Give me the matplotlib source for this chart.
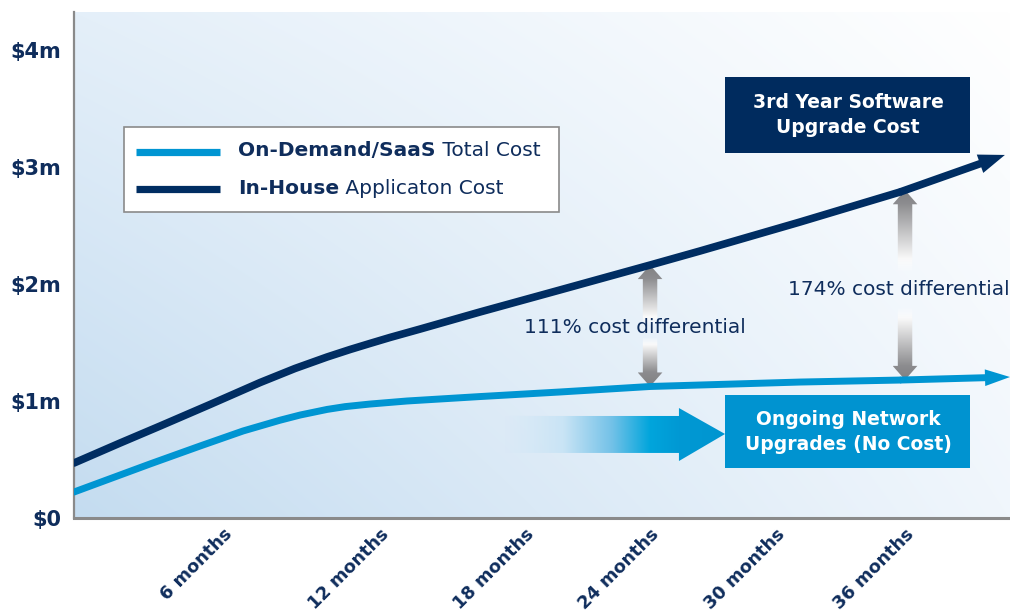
import numpy as np
import matplotlib
matplotlib.use('Agg')
import matplotlib.pyplot as plt
from matplotlib.patches import Rectangle, Polygon, FancyArrowPatch
from matplotlib.lines import Line2D
from matplotlib.colors import to_rgb, to_rgba

# ---------------- data ----------------
months_inhouse = [-3.11, -0.94, 0.94, 3.29, 5.65, 7.29, 8.80, 9.88, 10.82, 11.76,
                  13.18, 16.0, 19.76, 24.0, 26.35, 31.06, 35.76, 40.7]
cost_inhouse = [0.470, 0.641, 0.786, 0.970, 1.158, 1.278, 1.376, 1.440, 1.492, 1.543,
                1.615, 1.761, 1.949, 2.162, 2.282, 2.530, 2.786, 3.103]

months_saas = [-3.11, 0.47, 2.82, 4.85, 6.59, 7.53, 8.80, 9.65, 10.82, 12.56,
               16.0, 19.76, 24.0, 31.06, 35.76, 40.94]
cost_saas = [0.222, 0.462, 0.615, 0.744, 0.836, 0.880, 0.928, 0.952, 0.974, 1.000,
             1.038, 1.077, 1.124, 1.162, 1.179, 1.205]

x_tick_pos = [3.9, 11.3, 18.1, 24.0, 29.9, 36.0]
x_tick_labels = ['6 months', '12 months', '18 months', '24 months', '30 months', '36 months']
y_tick_pos = [0, 1, 2, 3, 4]
y_tick_labels = [r'\$0', r'\$1m', r'\$2m', r'\$3m', r'\$4m']

diff_months = [24.0, 36.0]
diff_labels = ['111% cost differential', '174% cost differential']

legend_bold = ['On-Demand/SaaS', 'In-House']
legend_rest = [' Total Cost', ' Applicaton Cost']

# ---------------- style ----------------
DARK = '#002d62'
LIGHT = '#0095d2'
NAVY_TXT = '#0f2d5c'
GRAY = '#8a8a8a'
plt.rcParams['font.family'] = ['DejaVu Sans']

W, H = 1010, 614
fig = plt.figure(figsize=(W / 100, H / 100), dpi=100)
fig.patch.set_facecolor('white')


def fx(px):
    return px / W


def fy(py):
    return 1 - py / H


ax = fig.add_axes([fx(74), fy(518), fx(1010 - 74), (518 - 12) / H])

# background gradient
c_bl = np.array(to_rgb('#c4dcf0'))
c_tl = np.array(to_rgb('#e4eff9'))
c_br = np.array(to_rgb('#f0f6fc'))
c_tr = np.array(to_rgb('#ffffff'))
U, V = np.meshgrid(np.linspace(0, 1, 300), np.linspace(0, 1, 200))
U = U[..., None]
V = V[..., None]
bg = c_bl * (1 - U) * (1 - V) + c_br * U * (1 - V) + c_tl * (1 - U) * V + c_tr * U * V
ax.imshow(bg, extent=[0, 1, 0, 1], transform=ax.transAxes, origin='lower',
          aspect='auto', zorder=0, interpolation='bilinear')

ax.set_xlim(-3.11, 40.94)
ax.set_ylim(0, 506 / 117)


def grad_poly(verts, stops, axis='y', zorder=3):
    verts = np.array(verts, dtype=float)
    x0, x1 = verts[:, 0].min(), verts[:, 0].max()
    y0, y1 = verts[:, 1].min(), verts[:, 1].max()
    poly = Polygon(verts, closed=True, facecolor='none', edgecolor='none', transform=ax.transData)
    ax.add_patch(poly)
    t = np.linspace(0, 1, 256)
    pos = [p for p, _ in stops]
    cols = np.array([to_rgba(c) if isinstance(c, str) else c for _, c in stops])
    arr = np.stack([np.interp(t, pos, cols[:, k]) for k in range(4)], axis=-1)
    img = arr[:, None, :] if axis == 'y' else arr[None, :, :]
    im = ax.imshow(img, extent=[x0, x1, y0, y1], origin='lower', aspect='auto',
                   interpolation='bilinear', zorder=zorder)
    im.set_clip_path(poly)
    return im


# ---------------- lines with arrow heads ----------------
ax.plot(months_inhouse[:-1], cost_inhouse[:-1], color=DARK, lw=5.5,
        solid_capstyle='round', solid_joinstyle='round', zorder=5)
ax.add_patch(FancyArrowPatch((months_inhouse[-2], cost_inhouse[-2]),
                             (months_inhouse[-1], cost_inhouse[-1]),
                             arrowstyle='simple,head_length=19,head_width=14,tail_width=5.5',
                             mutation_scale=1, color=DARK, lw=0, zorder=5,
                             shrinkA=0, shrinkB=0))

ax.plot(months_saas[:-1], cost_saas[:-1], color=LIGHT, lw=5.0,
        solid_capstyle='round', solid_joinstyle='round', zorder=5)
ax.add_patch(FancyArrowPatch((months_saas[-2], cost_saas[-2]),
                             (months_saas[-1], cost_saas[-1]),
                             arrowstyle='simple,head_length=18,head_width=12,tail_width=5.0',
                             mutation_scale=1, color=LIGHT, lw=0, zorder=5,
                             shrinkA=0, shrinkB=0))

# ---------------- gray differential arrows ----------------
hw, sw, hl = 0.58, 0.34, 0.12
fades = {24.0: (1.64, 1.54), 36.0: (2.10, 1.80)}
text_pos = {24.0: (23.3, 1.624), 36.0: (35.7, 1.957)}
for m, lab in zip(diff_months, diff_labels):
    ytop = np.interp(m, months_inhouse, cost_inhouse)
    ybot = np.interp(m, months_saas, cost_saas)
    f_up, f_dn = fades[m]
    verts = [(m - sw, f_up), (m + sw, f_up), (m + sw, ytop - hl), (m + hw, ytop - hl),
             (m, ytop), (m - hw, ytop - hl), (m - sw, ytop - hl)]
    tb = (ytop - hl - f_up) / (ytop - f_up)
    grad_poly(verts, [(0, (1, 1, 1, 0)), (0.15, (0.98, 0.98, 0.98, 1)),
                      (tb, (0.55, 0.55, 0.56, 1)), (1, (0.50, 0.50, 0.51, 1))], zorder=4)
    verts = [(m - sw, f_dn), (m + sw, f_dn), (m + sw, ybot + hl), (m + hw, ybot + hl),
             (m, ybot), (m - hw, ybot + hl), (m - sw, ybot + hl)]
    tb = hl / (f_dn - ybot)
    grad_poly(verts, [(0, (0.50, 0.50, 0.51, 1)), (tb, (0.55, 0.55, 0.56, 1)),
                      (0.85, (0.98, 0.98, 0.98, 1)), (1, (1, 1, 1, 0))], zorder=4)
    tx, ty = text_pos[m]
    ax.text(tx, ty, lab, ha='center', va='center', fontsize=14.5, color=NAVY_TXT, zorder=6)

# ---------------- blue gradient arrow ----------------
ga_verts = [(16.47, 0.556), (25.36, 0.556), (25.36, 0.487), (27.53, 0.718),
            (25.36, 0.94), (25.36, 0.872), (16.47, 0.872)]
grad_poly(ga_verts, [(0, (0.85, 0.92, 0.97, 0)), (0.06, (0.82, 0.91, 0.97, 0)),
                     (0.31, to_rgba('#c9e4f5')), (0.515, to_rgba('#74c2e8')),
                     (0.68, to_rgba('#00a5dc')), (0.80, to_rgba('#0099d4')),
                     (1.0, to_rgba('#0095d0'))], axis='x', zorder=4)

# ---------------- axes styling ----------------
for s in ['top', 'right']:
    ax.spines[s].set_visible(False)
ax.spines['left'].set_color(GRAY)
ax.spines['left'].set_linewidth(1.6)
ax.spines['bottom'].set_color(GRAY)
ax.spines['bottom'].set_linewidth(2.2)
ax.set_yticks(y_tick_pos)
ax.set_yticklabels(y_tick_labels, fontsize=15, fontweight='bold', color=NAVY_TXT)
ax.set_xticks(x_tick_pos)
ax.set_xticklabels(x_tick_labels, fontsize=12.8, fontweight='bold', color=NAVY_TXT,
                   rotation=45, ha='right', va='top', rotation_mode='anchor')
ax.tick_params(axis='y', length=0, pad=9)
ax.tick_params(axis='x', length=0, pad=5)

# ---------------- legend (manual) ----------------
fig.patches.append(Rectangle((fx(124), fy(212)), fx(559 - 124), (212 - 127) / H,
                             transform=fig.transFigure, facecolor='white',
                             edgecolor=GRAY, lw=1.2, zorder=10))
for yy, col in [(152, LIGHT), (189, DARK)]:
    fig.lines.append(Line2D([fx(136), fx(220)], [fy(yy), fy(yy)], transform=fig.transFigure,
                            color=col, lw=5.2, solid_capstyle='butt', zorder=11))
renderer = fig.canvas.get_renderer()
for yy, b, r in zip([150, 189], legend_bold, legend_rest):
    t1 = fig.text(fx(238), fy(yy), b, fontsize=14.5, fontweight='bold', color=NAVY_TXT,
                  ha='left', va='center', zorder=12)
    bb = t1.get_window_extent(renderer=renderer)
    fig.text(bb.x1 / W, fy(yy), r, fontsize=14.5, color=NAVY_TXT,
             ha='left', va='center', zorder=12)

# ---------------- callout boxes ----------------
fig.patches.append(Rectangle((fx(725), fy(153)), fx(970 - 725), (153 - 77) / H,
                             transform=fig.transFigure, facecolor='#002b5e',
                             edgecolor='none', zorder=10))
fig.text(fx(848), fy(115), '3rd Year Software\nUpgrade Cost', ha='center', va='center',
         fontsize=13.5, fontweight='bold', color='white', linespacing=1.35, zorder=12)
fig.patches.append(Rectangle((fx(725), fy(468)), fx(970 - 725), (468 - 395) / H,
                             transform=fig.transFigure, facecolor='#0093d0',
                             edgecolor='none', zorder=10))
fig.text(fx(848), fy(432), 'Ongoing Network\nUpgrades (No Cost)', ha='center', va='center',
         fontsize=13.5, fontweight='bold', color='white', linespacing=1.35, zorder=12)

fig.savefig('out.png', dpi=100, facecolor='white')
